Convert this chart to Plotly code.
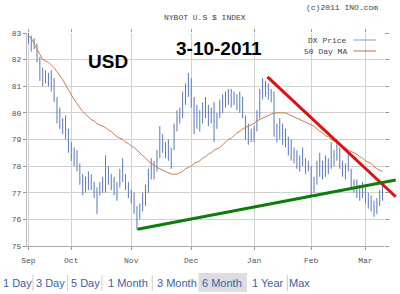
import plotly.graph_objects as go

# ---------------- data ----------------
month_labels = ["Sep", "Oct", "Nov", "Dec", "Jan", "Feb", "Mar"]
month_start_idx = [0, 15, 36, 57, 79, 99, 118]   # trading-day index of each month start
y_ticks = [75, 76, 77, 78, 79, 80, 81, 82, 83]

# daily high / low of DX (trading days, Sep 2010 - Mar 2011)
high = [83.0, 82.9, 82.8, 82.6, 82.1, 81.7, 81.6, 81.5, 81.6, 81.3,
        80.6, 80.2, 79.8, 79.9, 79.4, 78.9, 78.7, 78.6, 78.1, 77.7,
        77.6, 77.8, 77.7, 77.4, 77.2, 77.4, 77.6, 78.4, 78.0, 77.7,
        77.6, 77.4, 77.9, 78.3, 77.7, 77.4, 77.1, 77.0, 76.5, 76.6,
        77.0, 77.3, 77.9, 78.3, 78.2, 78.6, 79.5, 79.2, 78.9, 79.0,
        78.7, 79.6, 80.1, 80.2, 80.8, 81.1, 81.5, 81.3, 80.6, 80.3,
        80.1, 80.4, 80.6, 80.3, 80.2, 80.4, 80.0, 80.5, 80.7, 80.8,
        80.9, 80.9, 80.8, 80.7, 80.8, 80.6, 79.9, 79.6, 79.4, 79.5,
        80.1, 80.9, 81.3, 81.2, 81.1, 80.9, 80.8, 79.6, 79.8, 79.6,
        79.4, 79.1, 79.0, 78.7, 78.6, 78.4, 78.7, 78.3, 78.2, 78.0,
        77.6, 78.2, 78.5, 78.2, 78.4, 78.3, 78.9, 78.6, 79.0, 78.7,
        78.2, 78.1, 78.5, 77.9, 77.5, 77.5, 77.3, 77.4, 77.2, 77.0,
        76.9, 76.7, 76.8, 77.1, 77.3]
low = [82.6, 82.3, 82.4, 81.9, 81.2, 81.0, 81.1, 81.0, 80.8, 80.4,
       79.6, 79.4, 79.2, 79.0, 78.5, 78.2, 78.0, 77.8, 77.3, 76.9,
       77.0, 77.1, 77.1, 76.8, 76.2, 76.9, 77.0, 77.0, 77.3, 77.1,
       76.9, 76.7, 77.2, 77.4, 77.1, 76.8, 76.6, 76.2, 75.6, 76.0,
       76.3, 76.5, 77.0, 77.5, 77.5, 77.8, 78.3, 78.5, 78.3, 78.2,
       77.9, 78.6, 79.3, 79.6, 79.8, 80.3, 80.6, 80.2, 79.2, 79.4,
       79.3, 79.6, 79.8, 79.5, 79.6, 78.9, 79.4, 79.8, 80.0, 80.2,
       80.3, 80.2, 80.3, 80.1, 80.0, 79.8, 79.0, 78.8, 78.9, 78.9,
       79.3, 79.8, 80.5, 80.6, 80.5, 80.4, 79.1, 78.9, 79.0, 78.8,
       78.7, 78.4, 78.2, 78.1, 77.9, 77.8, 78.0, 77.7, 77.8, 76.9,
       77.0, 77.3, 77.6, 77.5, 77.6, 77.7, 77.9, 78.0, 78.2, 77.9,
       77.6, 77.5, 77.8, 77.2, 77.0, 76.8, 76.7, 76.8, 76.6, 76.4,
       76.3, 76.1, 76.2, 76.5, 76.7]

# 50 day moving average, read per trading day
ma50 = [82.9, 82.8, 82.6, 82.4, 82.2, 82.0, 81.95, 81.9, 81.8, 81.7,
        81.55, 81.4, 81.25, 81.05, 80.85, 80.65, 80.5, 80.35, 80.2, 80.05,
        79.95, 79.85, 79.75, 79.7, 79.6, 79.55, 79.5, 79.45, 79.35, 79.3,
        79.2, 79.1, 79.05, 79.0, 78.9, 78.85, 78.75, 78.7, 78.6, 78.5,
        78.4, 78.3, 78.2, 78.1, 78.05, 77.95, 77.9, 77.85, 77.8, 77.75,
        77.7, 77.7, 77.7, 77.75, 77.8, 77.9, 77.95, 78.0, 78.1, 78.15,
        78.2, 78.3, 78.35, 78.45, 78.5, 78.6, 78.65, 78.7, 78.8, 78.9,
        79.0, 79.05, 79.15, 79.25, 79.3, 79.4, 79.45, 79.5, 79.55, 79.6,
        79.7, 79.75, 79.8, 79.85, 79.9, 79.95, 80.0, 80.0, 80.0, 80.0,
        80.0, 79.95, 79.9, 79.85, 79.8, 79.75, 79.7, 79.65, 79.6, 79.55,
        79.5, 79.4, 79.3, 79.25, 79.15, 79.1, 79.0, 78.95, 78.9, 78.8,
        78.75, 78.7, 78.6, 78.55, 78.5, 78.45, 78.35, 78.3, 78.2, 78.15,
        78.1, 78.0, 77.9, 77.85, 77.8]

# hand-drawn trend lines: (trading-day index, price) endpoints
red_trend = [(83.7, 81.35), (128.6, 76.85)]
green_trend = [(38.2, 75.63), (128.6, 77.48)]

buttons = ["1 Day", "3 Day", "5 Day", "1 Month", "3 Month", "6 Month", "1 Year", "Max"]
selected_button = "6 Month"

# ---------------- layout geometry ----------------
W, H = 400, 294
ML, MR, MT, MB = 26, 12, 33, 48
PW, PH = W - ML - MR, H - MT - MB
XR = [-0.5, len(high) - 0.5]
YR = [75, 83]

def px(x):
    return (x - ML) / PW

def py(y):
    return (H - MB - y) / PH

def dx2paper(i):
    return (i - XR[0]) / (XR[1] - XR[0])

def dy2paper(v):
    return (v - YR[0]) / (YR[1] - YR[0])

MONO = "Liberation Mono"
GRAY = "#555555"
PRICE_C = "#5a78b8"
MA_C = "#c97d55"

# ---------------- traces ----------------
bx, by = [], []
for i, (h, l) in enumerate(zip(high, low)):
    bx += [i, i, None]
    by += [l, h, None]

fig = go.Figure()
fig.add_trace(go.Scatter(x=bx, y=by, mode="lines",
                         line=dict(color=PRICE_C, width=1),
                         hoverinfo="skip", showlegend=False))
fig.add_trace(go.Scatter(x=list(range(len(ma50))), y=ma50, mode="lines",
                         line=dict(color=MA_C, width=1),
                         showlegend=False))
# invisible trace to host the mirrored tick axes
fig.add_trace(go.Scatter(x=[None], y=[None], xaxis="x2", yaxis="y2",
                         showlegend=False))

shapes = []
for pts, col in [(red_trend, "#e01010"), (green_trend, "#0b7d0b")]:
    shapes.append(dict(type="line", xref="paper", yref="paper",
                       x0=dx2paper(pts[0][0]), y0=dy2paper(pts[0][1]),
                       x1=dx2paper(pts[1][0]), y1=dy2paper(pts[1][1]),
                       line=dict(color=col, width=3), layer="above"))

# legend samples
shapes.append(dict(type="line", xref="paper", yref="paper",
                   x0=px(357), x1=px(380), y0=py(40), y1=py(40),
                   line=dict(color="#7f9fd2", width=1)))
shapes.append(dict(type="line", xref="paper", yref="paper",
                   x0=px(357), x1=px(380), y0=py(51), y1=py(51),
                   line=dict(color="#c0704a", width=1)))


def note(text, x, y, size, family, color, xanchor="center"):
    return dict(text=text, x=px(x), y=py(y), xref="paper", yref="paper",
                xanchor=xanchor, yanchor="middle", showarrow=False,
                font=dict(family=family, size=size, color=color))


annotations = [
    note("NYBOT U.S $ INDEX", 206, 17, 8, MONO, "#444"),
    note("(c)2011 INO.com", 384, 7, 8, MONO, "#444", "right"),
    note("DX Price", 353, 40, 8, MONO, "#444", "right"),
    note("50 Day MA", 353, 51, 8, MONO, "#444", "right"),
    note("<b>USD</b>", 108, 61, 19, "Liberation Sans", "#000"),
    note("<b>3-10-2011</b>", 221, 49, 19, "Liberation Sans", "#000"),
]

# bottom range buttons
btn_pos = [(0, "left"), (50, "center"), (85, "center"), (128, "center"),
           (178, "center"), (224, "center"), (270, "center"), (302, "center")]
seps = [32, 67, 102, 153, 290]
for name, (cx, anc) in zip(buttons, btn_pos):
    if name == selected_button:
        shapes.append(dict(type="rect", xref="paper", yref="paper",
                           x0=px(200), x1=px(249), y0=py(292), y1=py(273),
                           fillcolor="#dcdde3", line=dict(width=0), layer="below"))
    annotations.append(note(name, cx, 283, 11, "Liberation Sans", "#3d5fa0", anc))
for sx in seps:
    shapes.append(dict(type="line", xref="paper", yref="paper",
                       x0=px(sx), x1=px(sx), y0=py(291), y1=py(275),
                       line=dict(color="#cccccc", width=1)))

axis_common = dict(showgrid=True, gridcolor="#d2d2d2", gridwidth=1, zeroline=False,
                   ticks="outside", ticklen=3, tickcolor="#999",
                   tickfont=dict(family=MONO, size=8, color=GRAY))

fig.update_layout(
    width=W, height=H,
    margin=dict(l=ML, r=MR, t=MT, b=MB, pad=0),
    paper_bgcolor="white", plot_bgcolor="white",
    xaxis=dict(range=XR, tickmode="array", tickvals=month_start_idx,
               ticktext=month_labels, showline=True, linecolor="#aaa",
               ticklabelstandoff=3, **axis_common),
    yaxis=dict(range=YR, tickmode="array", tickvals=y_ticks,
               ticktext=[str(v) for v in y_ticks], showline=True, linecolor="#bbb",
               **axis_common),
    xaxis2=dict(range=XR, overlaying="x", side="top", tickmode="array",
                tickvals=month_start_idx, showticklabels=False, showgrid=False,
                zeroline=False, ticks="outside", ticklen=3, tickcolor="#999"),
    yaxis2=dict(range=YR, overlaying="y", side="right", tickmode="array",
                tickvals=y_ticks, showticklabels=False, showgrid=False,
                zeroline=False, ticks="outside", ticklen=4, tickcolor="#999"),
    shapes=shapes,
    annotations=annotations,
    showlegend=False,
)

fig.write_html("out.html")
